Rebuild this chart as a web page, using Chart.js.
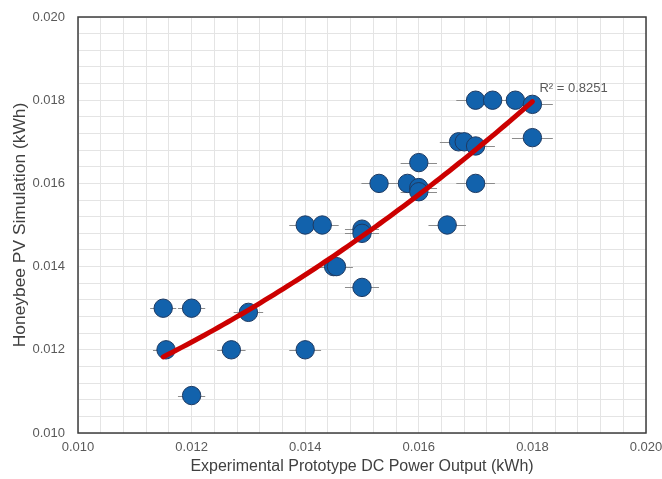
<!DOCTYPE html>
<html>
<head>
<meta charset="utf-8">
<script src="https://cdn.jsdelivr.net/npm/chart.js@4"></script>
<style>
  html, body { margin: 0; padding: 0; background: #ffffff; }
  #wrap { width: 662px; height: 479px; }
</style>
</head>
<body>
<div id="wrap"><canvas id="c" width="662" height="479"></canvas></div>
<script>
// Measured prototype output (x) against simulated output (y), kWh
const measuredOutput = [
  0.01150, 0.01200, 0.01155, 0.01200, 0.01300, 0.01270, 0.01400, 0.01400,
  0.01430, 0.01450, 0.01455, 0.01500, 0.01500, 0.01500, 0.01530, 0.01580,
  0.01600, 0.01600, 0.01600, 0.01650, 0.01700, 0.01670, 0.01680, 0.01700,
  0.01700, 0.01730, 0.01770, 0.01800, 0.01800
];
const simulatedOutput = [
  0.01300, 0.01300, 0.01200, 0.01090, 0.01290, 0.01200, 0.01200, 0.01500,
  0.01500, 0.01400, 0.01400, 0.01350, 0.01490, 0.01480, 0.01600, 0.01600,
  0.01650, 0.01590, 0.01580, 0.01500, 0.01600, 0.01700, 0.01700, 0.01690,
  0.01800, 0.01800, 0.01800, 0.01790, 0.01710
];
// Horizontal uncertainty of each measurement, kWh
const outputError = [
  0.00023, 0.00024, 0.00023, 0.00024, 0.00026, 0.00025, 0.00028, 0.00028,
  0.00029, 0.00029, 0.00029, 0.00030, 0.00030, 0.00030, 0.00031, 0.00032,
  0.00032, 0.00032, 0.00032, 0.00033, 0.00034, 0.00033, 0.00034, 0.00034,
  0.00034, 0.00035, 0.00035, 0.00036, 0.00036
];
// Second-order trendline y = a*x^2 + b*x + c, and the x span it covers
const trendCoefficients = [38.56, -0.1936, 0.008956];
const trendRange = [0.01150, 0.01800];
const xTickLabels = ['0.010', '0.012', '0.014', '0.016', '0.018', '0.020'];
const yTickLabels = ['0.010', '0.012', '0.014', '0.016', '0.018', '0.020'];
const fitLabel = 'R\u00B2 = 0.8251';
const xTitle = 'Experimental Prototype DC Power Output (kWh)';
const yTitle = 'Honeybee PV Simulation (kWh)';

const FONT = '"Liberation Sans", Arial, sans-serif';

function trendAt(x) {
  const [a, b, c] = trendCoefficients;
  return a * x * x + b * x + c;
}

const trendPoints = [];
for (let i = 0; i <= 80; i++) {
  const x = trendRange[0] + (trendRange[1] - trendRange[0]) * i / 80;
  trendPoints.push({ x: x, y: trendAt(x) });
}

const scatterPoints = measuredOutput.map((x, i) => ({ x: x, y: simulatedOutput[i] }));

function tickText(labels) {
  return function (value) {
    const k = value * 500;
    if (Math.abs(k - Math.round(k)) < 1e-6) {
      const s = value.toFixed(3);
      if (labels.indexOf(s) >= 0) return s;
    }
    return '';
  };
}

// Horizontal error whiskers, drawn beneath the markers
const errorBars = {
  id: 'errorBars',
  beforeDatasetsDraw(chart) {
    const { ctx, scales: { x, y } } = chart;
    ctx.save();
    ctx.strokeStyle = '#8c8c8c';
    ctx.lineWidth = 1;
    measuredOutput.forEach((v, i) => {
      const py = Math.round(y.getPixelForValue(simulatedOutput[i])) + 0.5;
      const x0 = x.getPixelForValue(v - outputError[i]);
      const x1 = x.getPixelForValue(v + outputError[i]);
      ctx.beginPath();
      ctx.moveTo(x0, py);
      ctx.lineTo(x1, py);
      ctx.stroke();
    });
    ctx.restore();
  }
};

// Plot frame and the fit annotation
const frameAndLabel = {
  id: 'frameAndLabel',
  afterDraw(chart) {
    const { ctx, chartArea: a, scales: { x, y } } = chart;
    ctx.save();
    ctx.strokeStyle = '#3c3c3c';
    ctx.lineWidth = 1.5;
    ctx.strokeRect(a.left, a.top, a.right - a.left, a.bottom - a.top);
    const end = trendPoints[trendPoints.length - 1];
    ctx.fillStyle = '#595959';
    ctx.font = '13px ' + FONT;
    ctx.textBaseline = 'middle';
    ctx.textAlign = 'left';
    ctx.fillText(fitLabel, x.getPixelForValue(end.x) + 7, y.getPixelForValue(end.y) - 13);
    ctx.restore();
  }
};

new Chart(document.getElementById('c'), {
  type: 'scatter',
  data: {
    datasets: [
      {
        label: 'Poly. trend',
        data: trendPoints,
        showLine: true,
        borderColor: '#CC0000',
        borderWidth: 5,
        borderCapStyle: 'round',
        pointRadius: 0,
        pointHoverRadius: 0,
        fill: false,
        order: 0
      },
      {
        label: 'Output',
        data: scatterPoints,
        backgroundColor: '#1262AC',
        borderColor: '#1E3A62',
        borderWidth: 1,
        pointRadius: 9.2,
        pointHoverRadius: 9.2,
        order: 1
      }
    ]
  },
  options: {
    responsive: false,
    animation: false,
    devicePixelRatio: 1,
    layout: { padding: { top: 17, right: 16, left: 0, bottom: 0 } },
    plugins: {
      legend: { display: false },
      tooltip: { enabled: false }
    },
    scales: {
      x: {
        type: 'linear',
        min: 0.010,
        max: 0.020,
        grid: { color: '#E4E4E4', lineWidth: 1, drawTicks: false },
        border: { display: false },
        ticks: {
          stepSize: 0.0004,
          autoSkip: false,
          maxRotation: 0,
          minRotation: 0,
          padding: 7,
          color: '#595959',
          font: { family: FONT, size: 13 },
          callback: tickText(xTickLabels)
        },
        title: {
          display: true,
          text: xTitle,
          color: '#404040',
          font: { family: FONT, size: 16 },
          padding: { top: 0, bottom: 3 }
        },
        afterFit(scale) {
          scale.height = 46;
          scale.paddingLeft = 0;
          scale.paddingRight = 0;
        }
      },
      y: {
        type: 'linear',
        min: 0.010,
        max: 0.020,
        grid: { color: '#E4E4E4', lineWidth: 1, drawTicks: false },
        border: { display: false },
        ticks: {
          stepSize: 0.0004,
          autoSkip: false,
          padding: 13,
          color: '#595959',
          font: { family: FONT, size: 13 },
          callback: tickText(yTickLabels)
        },
        title: {
          display: true,
          text: yTitle,
          color: '#404040',
          font: { family: FONT, size: 17.4 },
          padding: { top: 10, bottom: 0 }
        },
        afterFit(scale) {
          scale.width = 78;
          scale.paddingTop = 0;
          scale.paddingBottom = 0;
        }
      }
    }
  },
  plugins: [errorBars, frameAndLabel]
});
</script>
</body>
</html>
